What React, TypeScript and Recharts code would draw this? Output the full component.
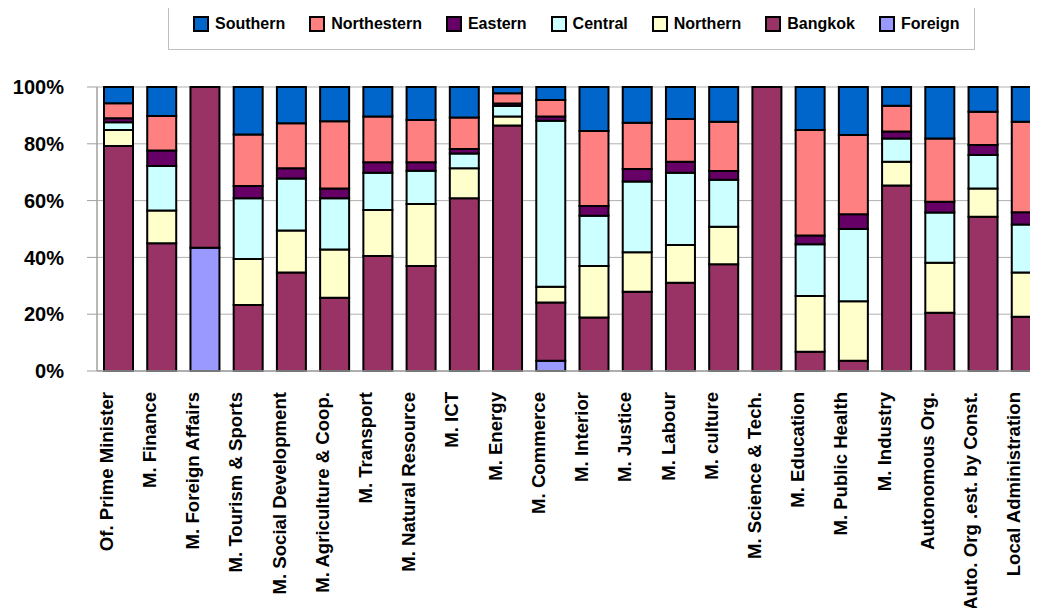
import React from 'react';
import { BarChart, Bar, XAxis, YAxis, CartesianGrid, Legend } from 'recharts';

const categories = [
  'Of. Prime Minister', 'M. Finance', 'M. Foreign Affairs', 'M. Tourism & Sports',
  'M. Social Development', 'M. Agriculture & Coop.', 'M. Transport', 'M. Natural Resource',
  'M. ICT', 'M. Energy', 'M. Commerce', 'M. Interior', 'M. Justice', 'M. Labour',
  'M. culture', 'M. Science & Tech.', 'M. Education', 'M. Public Health', 'M. Industry',
  'Autonomous Org.', 'Auto. Org .est. by Const.', 'Local Administration',
];

const foreign = [0, 0, 43.4, 0, 0, 0, 0, 0, 0, 0, 3.6, 0, 0, 0, 0, 0, 0, 0, 0, 0, 0, 0];
const bangkok = [79.2, 45.0, 56.6, 23.2, 34.7, 25.8, 40.5, 37.0, 60.8, 86.4, 20.5, 18.8, 27.9, 31.1, 37.6, 100, 6.8, 3.6, 65.3, 20.5, 54.3, 19.1];
const northern = [5.7, 11.5, 0, 16.2, 14.8, 17.0, 16.2, 21.8, 10.6, 3.2, 5.6, 18.2, 13.9, 13.3, 13.2, 0, 19.6, 21.0, 8.4, 17.6, 10.0, 15.6];
const central = [2.7, 15.7, 0, 21.4, 18.3, 18.0, 13.1, 11.7, 5.2, 3.7, 58.4, 17.7, 24.9, 25.4, 16.5, 0, 18.2, 25.4, 8.2, 17.7, 11.8, 16.9];
const eastern = [1.4, 5.4, 0, 4.3, 3.6, 3.5, 3.7, 3.0, 1.6, 0.9, 1.5, 3.4, 4.4, 3.9, 3.1, 0, 3.1, 5.2, 2.4, 3.8, 3.5, 4.3];
const northestern = [5.3, 12.2, 0, 18.2, 15.8, 23.6, 16.1, 14.9, 11.1, 3.6, 5.8, 26.4, 16.3, 15.0, 17.4, 0, 37.2, 27.9, 9.1, 22.3, 11.7, 31.9];
const southern = [5.7, 10.2, 0, 16.7, 12.8, 12.1, 10.4, 11.6, 10.7, 2.2, 4.6, 15.5, 12.6, 11.3, 12.2, 0, 15.1, 16.9, 6.6, 18.1, 8.7, 12.2];

const yTicks = [0, 0.2, 0.4, 0.6, 0.8, 1];

// bottom to top stacking order
const series = [
  { key: 'Foreign', values: foreign, color: '#9999FF' },
  { key: 'Bangkok', values: bangkok, color: '#993366' },
  { key: 'Northern', values: northern, color: '#FFFFCC' },
  { key: 'Central', values: central, color: '#CCFFFF' },
  { key: 'Eastern', values: eastern, color: '#660066' },
  { key: 'Northestern', values: northestern, color: '#FF8080' },
  { key: 'Southern', values: southern, color: '#0066CC' },
];

const legendOrder = ['Southern', 'Northestern', 'Eastern', 'Central', 'Northern', 'Bangkok', 'Foreign'];

const data = categories.map((name, i) => {
  const row: Record<string, any> = { name };
  series.forEach((s) => {
    row[s.key] = s.values[i];
  });
  return row;
});

const FONT = '"Liberation Sans", Arial, Helvetica, sans-serif';

const XTick = (props: any) => {
  const { x, y, payload } = props;
  return (
    <text
      transform={`translate(${x - 6}, ${y}) rotate(-90)`}
      textAnchor="end"
      fontSize={18.6}
      fontWeight="bold"
      fill="#000"
      fontFamily={FONT}
    >
      {payload.value}
    </text>
  );
};

const LegendBox = () => (
  <div
    style={{
      boxSizing: 'border-box',
      width: 807,
      height: 60,
      border: '1px solid #c0c0c0',
      display: 'flex',
      alignItems: 'center',
      paddingLeft: 24,
      paddingTop: 8,
      fontFamily: FONT,
      fontWeight: 'bold',
      fontSize: 16,
      color: '#000',
      background: '#fff',
    }}
  >
    {legendOrder.map((k) => {
      const s = series.find((x) => x.key === k)!;
      return (
        <div key={k} style={{ display: 'flex', alignItems: 'center', marginRight: 24 }}>
          <div
            style={{
              boxSizing: 'border-box',
              width: 16,
              height: 16,
              background: s.color,
              border: '2px solid #000',
            }}
          />
          <span style={{ marginLeft: 6, lineHeight: '16px' }}>{k}</span>
        </div>
      );
    })}
  </div>
);

export default function App() {
  return (
    <div style={{ width: 1038, height: 616, overflow: 'hidden', margin: -8, position: 'relative', background: '#fff' }}>
      <BarChart
        width={1048}
        height={616}
        data={data}
        stackOffset="expand"
        margin={{ top: 27, right: 0, left: 0, bottom: 0 }}
        barSize={29}
      >
        <CartesianGrid vertical={false} stroke="#b0b0b0" strokeWidth={1} />
        <XAxis
          dataKey="name"
          interval={0}
          height={245}
          tick={<XTick />}
          tickLine={false}
          tickSize={0}
          tickMargin={21}
          axisLine={{ stroke: '#a0a0a0', strokeWidth: 1.5 }}
        />
        <YAxis
          width={97}
          domain={[0, 1]}
          ticks={yTicks}
          tickFormatter={(v: number) => `${Math.round(v * 100)}%`}
          tick={{ fontSize: 20, fontWeight: 'bold', fill: '#000', fontFamily: FONT }}
          tickSize={10}
          tickMargin={23}
          tickLine={{ stroke: '#a0a0a0' }}
          axisLine={{ stroke: '#a0a0a0', strokeWidth: 1.5 }}
        />
        <Legend
          verticalAlign="top"
          align="left"
          wrapperStyle={{ top: -10, left: 168, width: 807, height: 60 }}
          content={() => <LegendBox />}
        />
        {series.map((s) => (
          <Bar
            key={s.key}
            dataKey={s.key}
            stackId="a"
            fill={s.color}
            stroke="#000"
            strokeWidth={2}
            isAnimationActive={false}
          />
        ))}
      </BarChart>
    </div>
  );
}
